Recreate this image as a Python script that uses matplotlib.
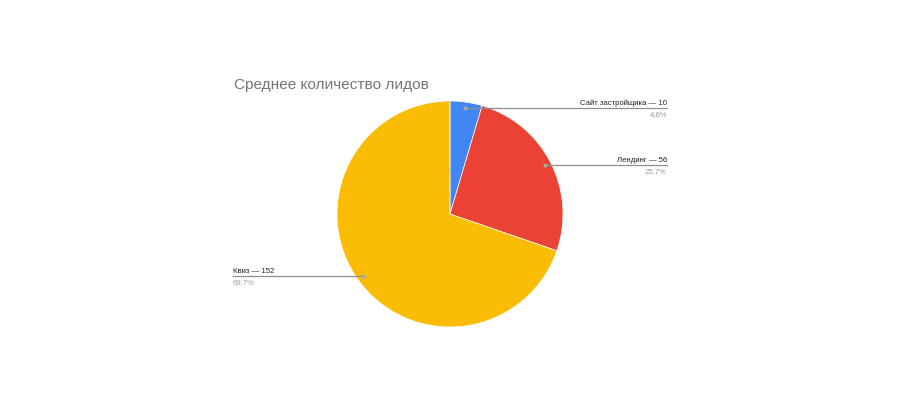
import numpy as np
import matplotlib
matplotlib.use("Agg")
import matplotlib.pyplot as plt

plt.rcParams['font.family'] = ['Liberation Sans', 'DejaVu Sans']

labels = ["Сайт застройщика", "Лендинг", "Квиз"]
values = [10, 56, 152]
colors = ["#4285F4", "#EA4335", "#FBBC04"]

fig = plt.figure(figsize=(9, 4.06), dpi=100)
# square axes in pixels, centred at (450, 215), radius 113
ax = fig.add_axes([0.5 - 113 / 900, (406 - 215 - 113) / 406, 226 / 900, 226 / 406])
ax.pie(values, colors=colors, startangle=90, counterclock=False, radius=1,
       wedgeprops=dict(linewidth=0.5, edgecolor="white"))
ax.set_xlim(-1, 1)
ax.set_ylim(-1, 1)
ax.set_aspect("equal")
ax.axis("off")

total = sum(values)
start = 90.0
line_x = [1.92, 1.92, -1.92]
for i, v in enumerate(values):
    frac = v / total
    mid = np.deg2rad(start - frac * 360 / 2)
    start -= frac * 360
    px, py = 0.95 * np.cos(mid), 0.95 * np.sin(mid)
    ex = line_x[i]
    ax.plot([px, ex], [py, py], color="#8f8f8f", lw=0.9, clip_on=False)
    ax.plot(px, py, "o", color="#a8a8a8", ms=2, clip_on=False)
    ha = "right" if ex > 0 else "left"
    pct = f"{frac * 100:.1f}%".replace(".", ",")
    ax.annotate(f"{labels[i]} — {v}", (ex, py), xytext=(0, 1.5), textcoords="offset points",
                ha=ha, va="bottom", fontsize=5.6, color="#222222", annotation_clip=False)
    ax.annotate(pct, (ex, py), xytext=(0, -1.5), textcoords="offset points",
                ha=ha, va="top", fontsize=5.6, color="#9e9e9e", annotation_clip=False)

fig.text(234 / 900, 1 - 85 / 406, "Среднее количество лидов", fontsize=11.1,
         color="#757575", ha="left", va="center")

fig.savefig("out.png", dpi=100)
